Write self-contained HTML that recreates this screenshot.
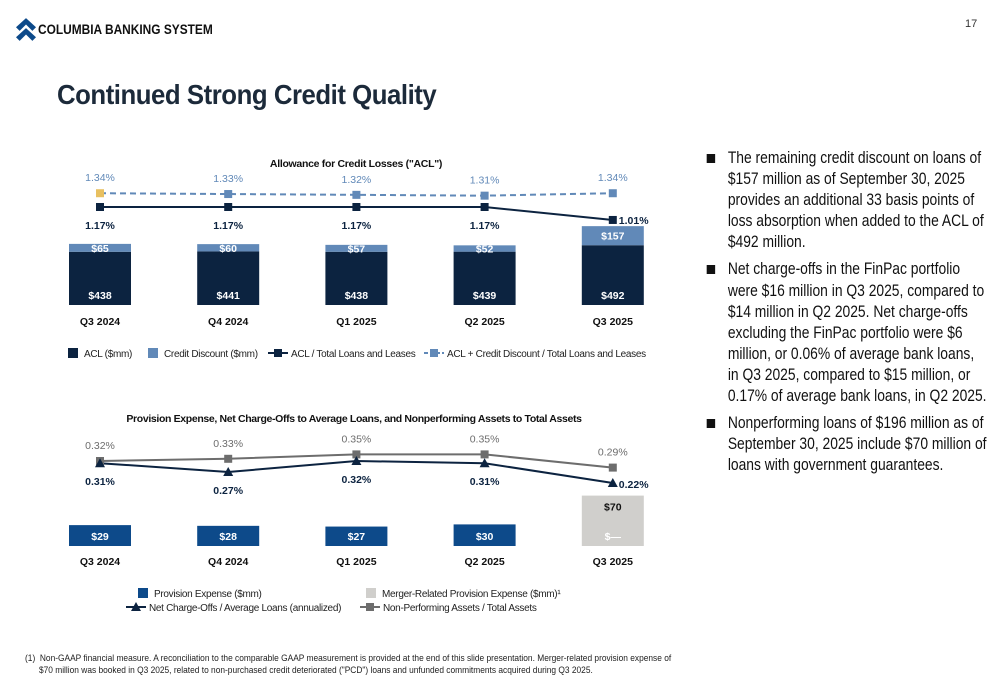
<!DOCTYPE html>
<html><head><meta charset="utf-8"><style>
body{margin:0;width:1000px;height:685px;background:#fff;font-family:"Liberation Sans",sans-serif;overflow:hidden;position:relative}
.abs{position:absolute}
#bul{left:705px;top:148px;font-size:16.4px;line-height:21.1px;color:#111;transform:scaleX(0.845);transform-origin:0 0;white-space:nowrap}
#bul div{position:relative;padding-left:27px;margin-bottom:0px}
#bul div:before{content:"";position:absolute;left:2px;top:6px;width:10px;height:9px;background:#111}
</style></head><body>
<svg class="abs" style="left:16px;top:17px" width="20" height="26" viewBox="0 0 22 26"><path d="M11 0 L22 10 L18 14 L11 7 L4 14 L0 10Z M11 11 L22 21 L18 25 L11 18 L4 25 L0 21Z" fill="#0d4a8a"/></svg>
<div class="abs" style="left:38px;top:21px;font-weight:bold;font-size:14px;color:#111;transform:scaleX(0.85);transform-origin:0 0;white-space:nowrap">COLUMBIA BANKING SYSTEM</div>
<div class="abs" style="left:965px;top:18px;font-size:11px;color:#333">17</div>
<div class="abs" style="left:57px;top:79px;font-weight:bold;font-size:28px;color:#1c2a3a;letter-spacing:-0.5px;transform:scaleX(0.92);transform-origin:0 0;white-space:nowrap">Continued Strong Credit Quality</div>
<div id="bul" class="abs">
<div>The remaining credit discount on loans of<br>$157 million as of September 30, 2025<br>provides an additional 33 basis points of<br>loss absorption when added to the ACL of<br>$492 million.</div>
<div style="margin-top:6px">Net charge-offs in the FinPac portfolio<br>were $16 million in Q3 2025, compared to<br>$14 million in Q2 2025. Net charge-offs<br>excluding the FinPac portfolio were $6<br>million, or 0.06% of average bank loans,<br>in Q3 2025, compared to $15 million, or<br>0.17% of average bank loans, in Q2 2025.</div>
<div style="margin-top:6px">Nonperforming loans of $196 million as of<br>September 30, 2025 include $70 million of<br>loans with government guarantees.</div>
</div>
<div class="abs" style="left:25px;top:652px;font-size:9.3px;line-height:12px;color:#222;white-space:nowrap;transform:scaleX(0.9);transform-origin:0 0">(1)&nbsp; Non-GAAP financial measure. A reconciliation to the comparable GAAP measurement is provided at the end of this slide presentation. Merger-related provision expense of<br>&nbsp;&nbsp;&nbsp;&nbsp;&nbsp;&nbsp;$70 million was booked in Q3 2025, related to non-purchased credit deteriorated ("PCD") loans and unfunded commitments acquired during Q3 2025.</div>
<svg id="ch" class="abs" style="left:0;top:0" width="1000" height="685" font-family="Liberation Sans, sans-serif"></svg>
<script>
const quarters=["Q3 2024","Q4 2024","Q1 2025","Q2 2025","Q3 2025"];
const acl=[438,441,438,439,492];
const creditDiscount=[65,60,57,52,157];
const aclRatio=[1.17,1.17,1.17,1.17,1.01];
const aclPlusRatio=[1.34,1.33,1.32,1.31,1.34];
const provision=[29,28,27,30,0];
const mergerProvision=[0,0,0,0,70];
const ncoRatio=[0.31,0.27,0.32,0.31,0.22];
const npaRatio=[0.32,0.33,0.35,0.35,0.29];

const svg=document.getElementById('ch');const NS="http://www.w3.org/2000/svg";
function mk(t,a,txt){const e=document.createElementNS(NS,t);for(const k in a)e.setAttribute(k,a[k]);if(txt!=null)e.textContent=txt;svg.appendChild(e);return e;}
const xC=i=>100+i*128.2, BW=62;
const y1=v=>305-v*0.1215;
const r1=v=>207-(v-1.17)*81;
let t=mk('text',{x:356,y:167,'font-size':10.5,'font-weight':'bold','text-anchor':'middle',fill:'#111','letter-spacing':'-0.3'},'Allowance for Credit Losses ("ACL")');

quarters.forEach((q,i)=>{
 const x=xC(i);
 let b=mk('rect',{x:x-BW/2,y:y1(acl[i]),width:BW,height:305-y1(acl[i]),fill:'#0c2340'});
 
 let c=mk('rect',{x:x-BW/2,y:y1(acl[i]+creditDiscount[i]),width:BW,height:y1(acl[i])-y1(acl[i]+creditDiscount[i]),fill:'#6189b8'});
 
 let l=mk('text',{x:x,y:299,'font-size':10.5,'font-weight':'bold','text-anchor':'middle',fill:'#fff'},'$'+acl[i]);
 
 const cy=(y1(acl[i])+y1(acl[i]+creditDiscount[i]))/2+4;
 l=mk('text',{x:x,y:cy,'font-size':10.5,'font-weight':'bold','text-anchor':'middle',fill:'#fff'},'$'+creditDiscount[i]);
 
 l=mk('text',{x:x,y:325,'font-size':10.5,'font-weight':'bold','text-anchor':'middle',fill:'#111'},q);
 
});
let p=mk('polyline',{points:aclPlusRatio.map((v,i)=>xC(i)+','+r1(v)).join(' '),fill:'none',stroke:'#6189b8','stroke-width':2,'stroke-dasharray':'6,4'});

p=mk('polyline',{points:aclRatio.map((v,i)=>xC(i)+','+r1(v)).join(' '),fill:'none',stroke:'#0c2340','stroke-width':2});

quarters.forEach((q,i)=>{
 const x=xC(i);
 let m=mk('rect',{x:x-4,y:r1(aclPlusRatio[i])-4,width:8,height:8,fill:i==0?'#e8c060':'#6189b8'});
 
 m=mk('rect',{x:x-4,y:r1(aclRatio[i])-4,width:8,height:8,fill:'#0c2340'});
 
 let l=mk('text',{x:x,y:r1(aclPlusRatio[i])-12,'font-size':10.5,'text-anchor':'middle',fill:'#6189b8'},aclPlusRatio[i].toFixed(2)+'%');
 
 const last=i==4;
 l=mk('text',{x:last?x+6:x,y:last?r1(aclRatio[i])+4:r1(aclRatio[i])+22,'font-size':10.5,'font-weight':'bold','text-anchor':last?'start':'middle',fill:'#0c2340'},aclRatio[i].toFixed(2)+'%');
 
});
function legRect(x,y,c,txt,name){let r=mk('rect',{x:x,y:y-9,width:10,height:10,fill:c});
 let t=mk('text',{x:x+16,y:y,'font-size':10,fill:'#222','letter-spacing':'-0.3'},txt);}
function legLine(x,y,c,txt,name,dash,shape){let l=mk('line',{x1:x,y1:y-4,x2:x+20,y2:y-4,stroke:c,'stroke-width':2});if(dash)l.setAttribute('stroke-dasharray','4,2');
 let m=shape=='tri'?mk('polygon',{points:`${x+10},${y-9} ${x+15},${y} ${x+5},${y}`,fill:c}):mk('rect',{x:x+6,y:y-8,width:8,height:8,fill:c});
 
 let t=mk('text',{x:x+23,y:y,'font-size':10,fill:'#222','letter-spacing':'-0.3'},txt);}
legRect(68,357,'#0c2340','ACL ($mm)','legend-acl');
legRect(148,357,'#6189b8','Credit Discount ($mm)','legend-credit-discount');
legLine(268,357,'#0c2340','ACL / Total Loans and Leases','legend-acl-ratio');
legLine(424,357,'#6189b8','ACL + Credit Discount / Total Loans and Leases','legend-acl-plus',true);
const y2=v=>546-v*0.72;
const r2=v=>461-(v-0.32)*220;
t=mk('text',{x:354,y:422,'font-size':10.5,'font-weight':'bold','text-anchor':'middle',fill:'#111','letter-spacing':'-0.35'},'Provision Expense, Net Charge-Offs to Average Loans, and Nonperforming Assets to Total Assets');

quarters.forEach((q,i)=>{
 const x=xC(i);
 if(provision[i]>0){let b=mk('rect',{x:x-BW/2,y:y2(provision[i]),width:BW,height:546-y2(provision[i]),fill:'#0d4a8a'});
  }
 if(mergerProvision[i]>0){let b=mk('rect',{x:x-BW/2,y:y2(provision[i]+mergerProvision[i]),width:BW,height:y2(provision[i])-y2(provision[i]+mergerProvision[i]),fill:'#d0cfcc'});
  
  let l=mk('text',{x:x,y:y2(provision[i]+mergerProvision[i])+15,'font-size':10.5,'font-weight':'bold','text-anchor':'middle',fill:'#111'},'$'+mergerProvision[i]);
  }
 let l=mk('text',{x:x,y:540,'font-size':10.5,'font-weight':'bold','text-anchor':'middle',fill:'#fff'},provision[i]>0?'$'+provision[i]:'$—');
 
 l=mk('text',{x:x,y:565,'font-size':10.5,'font-weight':'bold','text-anchor':'middle',fill:'#111'},q);
 
});
p=mk('polyline',{points:npaRatio.map((v,i)=>xC(i)+','+r2(v)).join(' '),fill:'none',stroke:'#6d6d6d','stroke-width':2});

p=mk('polyline',{points:ncoRatio.map((v,i)=>xC(i)+','+r2(v)).join(' '),fill:'none',stroke:'#0c2340','stroke-width':2});

quarters.forEach((q,i)=>{
 const x=xC(i);
 let m=mk('rect',{x:x-4,y:r2(npaRatio[i])-4,width:8,height:8,fill:'#6d6d6d'});
 
 const yy=r2(ncoRatio[i]);
 m=mk('polygon',{points:`${x},${yy-5} ${x+5},${yy+4} ${x-5},${yy+4}`,fill:'#0c2340'});
 
 let l=mk('text',{x:x,y:r2(npaRatio[i])-12,'font-size':10.5,'text-anchor':'middle',fill:'#6d6d6d'},npaRatio[i].toFixed(2)+'%');
 
 const last=i==4;
 l=mk('text',{x:last?x+6:x,y:last?yy+5:yy+22,'font-size':10.5,'font-weight':'bold','text-anchor':last?'start':'middle',fill:'#0c2340'},ncoRatio[i].toFixed(2)+'%');
 
});
legRect(138,597,'#0d4a8a','Provision Expense ($mm)','legend-provision');
legRect(366,597,'#d0cfcc','Merger-Related Provision Expense ($mm)¹','legend-merger-provision');
legLine(126,611,'#0c2340','Net Charge-Offs / Average Loans (annualized)','legend-nco','', 'tri');
legLine(360,611,'#6d6d6d','Non-Performing Assets / Total Assets','legend-npa');
</script>
</body></html>
